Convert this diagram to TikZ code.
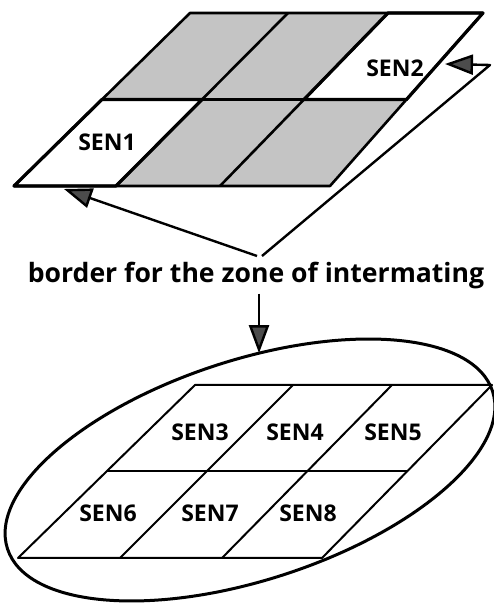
\documentclass[tikz,border=0pt]{standalone}
\usepackage{fontspec}
\setmainfont{Open Sans}
\usetikzlibrary{arrows.meta,intersections}
\definecolor{cellgray}{gray}{0.77}
\definecolor{tipgray}{gray}{0.3}
\begin{document}
\begin{tikzpicture}[x=1pt,y=1pt,
  cellshade/.style={fill=cellgray},
  upperline/.style={line width=2.6pt, line join=round, line cap=round},
  whiteframe/.style={line width=3.2pt, line join=round},
  lowerline/.style={line width=2pt, line join=round},
  rimline/.style={line width=3pt},
  pointer/.style={line width=2.4pt, line join=round,
    -{Triangle[length=28pt,width=20pt,fill=tipgray]}},
  senlabel/.style={font=\bfseries\fontsize{23}{23}\selectfont, inner sep=0pt},
  caption/.style={font=\bfseries\fontsize{26.6}{27}\selectfont, inner sep=4pt}]
\useasboundingbox (0,0) rectangle (493,604);

% ---- upper field: 3 x 2 parallelogram grid ----
\coordinate (t0) at (190,591);   \coordinate (t1) at (288,591);
\coordinate (t2) at (388,591);   \coordinate (t3) at (483,591);
\coordinate (m0) at (102,504.5); \coordinate (m1) at (202,504.5);
\coordinate (m2) at (304,504.5); \coordinate (m3) at (406.5,504.5);
\coordinate (b0) at (14,418);    \coordinate (b1) at (116,418);
\coordinate (b2) at (220,418);   \coordinate (b3) at (330,418);

\fill[cellshade] (t0) -- (t1) -- (m1) -- (m0) -- cycle;
\fill[cellshade] (t1) -- (t2) -- (m2) -- (m1) -- cycle;
\fill[cellshade] (m1) -- (m2) -- (b2) -- (b1) -- cycle;
\fill[cellshade] (m2) -- (m3) -- (b3) -- (b2) -- cycle;

\draw[upperline] (t0) -- (t3) -- (b3) -- (b0) -- cycle;
\draw[upperline] (m0) -- (m3);
\draw[upperline] (t1) -- (b1);
\draw[upperline] (t2) -- (b2);
\draw[whiteframe] (m0) -- (m1) -- (b1) -- (b0) -- cycle;
\draw[whiteframe] (t2) -- (t3) -- (m3) -- (m2) -- cycle;

\node[senlabel] (s1) at (107,462) {SEN1};
\node[senlabel] (s2) at (395,536) {SEN2};

% ---- arrows marking the border of the intermating zone ----
\coordinate (apexL) at (257,348);
\coordinate (apexR) at (262,348);
\coordinate (bend)  at (490,539);
\coordinate (tipR)  at (445,540);
\coordinate (tipL)  at (64,415);
\draw[pointer] (apexR) -- (bend) -- (tipR);
\draw[pointer] (apexL) -- (tipL);

\node[caption, anchor=base] (cap) at (256,321) {border for the zone of intermating};

% ---- lower field inside the zone ----
\coordinate (zc) at (250,134);
\draw[rimline, name path=rim, rotate around={18:(zc)}] (zc) ellipse [x radius=255, y radius=110];

\coordinate (u0) at (195,219);   \coordinate (u1) at (293,219);
\coordinate (u2) at (392,219);   \coordinate (u3) at (492,219);
\coordinate (c0) at (106.5,133); \coordinate (c1) at (206.5,133);
\coordinate (c2) at (307,133);   \coordinate (c3) at (407,133);
\coordinate (l0) at (18,46);     \coordinate (l1) at (120,46);
\coordinate (l2) at (222,46);    \coordinate (l3) at (322,46);

\draw[lowerline] (u0) -- (u3) -- (l3) -- (l0) -- cycle;
\draw[lowerline] (c0) -- (c3);
\draw[lowerline] (u1) -- (l1);
\draw[lowerline] (u2) -- (l2);

\node[senlabel] (s3) at (200,172) {SEN3};
\node[senlabel] (s4) at (295,172) {SEN4};
\node[senlabel] (s5) at (393,172) {SEN5};
\node[senlabel] (s6) at (108,91)  {SEN6};
\node[senlabel] (s7) at (210,91)  {SEN7};
\node[senlabel] (s8) at (308,91)  {SEN8};

% ---- arrow from the caption down to the zone border ----
\path[name path=drop] (259,310) -- (259,180);
\path[name intersections={of=drop and rim, sort by=drop, by={hit}}];
\draw[pointer] (hit |- cap.south) -- (hit);
\end{tikzpicture}
\end{document}
